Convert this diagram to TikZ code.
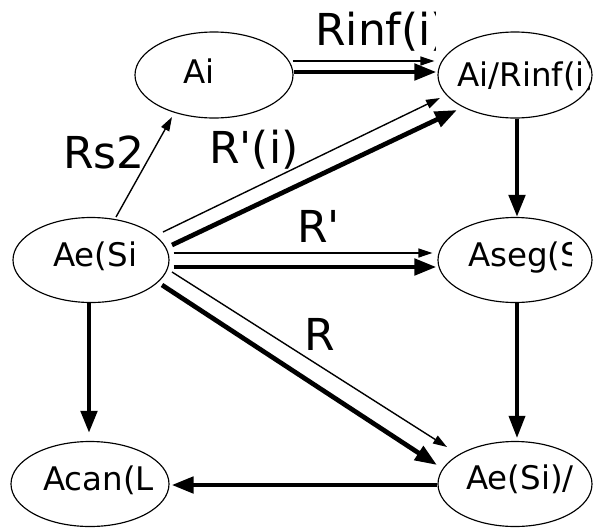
\documentclass[tikz,border=0pt]{standalone}
\usepackage{fontspec}
\setmainfont{DejaVu Sans}
\usetikzlibrary{shapes.geometric,arrows.meta,calc}
\tikzset{
  ell/.style={draw, ellipse, line width=1.15pt, inner sep=0pt, minimum height=85pt},
  ntext/.style={font=\fontsize{32.5}{36}\selectfont, inner sep=0pt, anchor=base west},
  ltext/.style={font=\fontsize{44}{48}\selectfont, inner sep=0pt, anchor=base west},
  thinarr/.style={line width=1.4pt, -{Triangle[length=14pt, width=9pt]}},
  thickarr/.style={line width=4.7pt, -{Triangle[length=22pt, width=16pt]}},
}
\begin{document}
\begin{tikzpicture}[x=1pt, y=1pt]
\useasboundingbox (0,0) rectangle (594,-528);
% ellipses
\node[ell, minimum width=158pt, minimum height=86pt] (ai) at (214,-75) {};
\node[ell, minimum width=154pt, minimum height=86pt] (air) at (515,-75) {};
\node[ell, minimum width=156pt] (ae) at (91,-260) {};
\node[ell, minimum width=154pt] (aseg) at (515,-260) {};
\node[ell, minimum width=158pt] (acan) at (90,-484) {};
\node[ell, minimum width=154pt] (aes) at (515,-484) {};
% node texts
\node[ntext] (tai) at (183,-83) {Ai};
\begin{scope}
  \clip (440,-30) rectangle (589,-120);
  \node[ntext] (tair) at (457,-86) {Ai/Rinf(i)};
\end{scope}
\node[ntext] (tae) at (53,-266) {Ae(Si};
\begin{scope}
  \clip (440,-220) rectangle (571,-300);
  \node[ntext] (taseg) at (468,-266) {Aseg(S};
\end{scope}
\node[ntext] (tacan) at (43,-490) {Acan(L};
\begin{scope}
  \clip (440,-444) rectangle (575,-524);
  \node[ntext] (taes) at (466,-489) {Ae(Si)/};
\end{scope}
% labels
\begin{scope}
  \clip (300,0) rectangle (435,-60);
  \node[ltext] (lrinf) at (315,-45) {Rinf(i)};
\end{scope}
\node[ltext] (lrs) at (63,-168) {Rs2};
\node[ltext] (lrpi) at (209,-163) {R\textquotesingle(i)};
\node[ltext] (lrp) at (297,-242) {R\textquotesingle};
\node[ltext] (lr) at (304,-350) {R};
% connectors
\draw[thinarr] ([shift={(-1,14)}]ai.east) -- ([shift={(-3,14)}]air.west);
\draw[thickarr] ([shift={(0,3)}]ai.east) -- ([shift={(-1,3)}]air.west);
\draw[thinarr] ([shift={(72,28)}]ae.center) -- ([shift={(-75,-23)}]air.center);
\draw[thickarr] ([shift={(81,15)}]ae.center) -- ([shift={(-58,-35)}]air.center);
\draw[thinarr] ([shift={(4,7)}]ae.east) -- ([shift={(-5,7)}]aseg.west);
\draw[thickarr] ([shift={(4,-7)}]ae.east) -- ([shift={(-1,-7)}]aseg.west);
\draw[thinarr] ([shift={(81,-12)}]ae.center) -- ([shift={(-68,37)}]aes.center);
\draw[thickarr] ([shift={(71,-25)}]ae.center) -- ([shift={(-78,19)}]aes.center);
\draw[thinarr] ([shift={(25,43)}]ae.center) -- ([shift={(-42,-42)}]ai.center);
\draw[thickarr] ([shift={(2,0)}]air.south) -- ([shift={(2,0)}]aseg.north);
\draw[thickarr, line width=3.5pt] ([shift={(2,0)}]aseg.south) -- ([shift={(2,3)}]aes.north);
\draw[thickarr] ([shift={(-2,0)}]ae.south) -- ([shift={(-1,8)}]acan.north);
\draw[thickarr] ([shift={(0,-1)}]aes.west) -- ([shift={(2,-1)}]acan.east);
\end{tikzpicture}
\end{document}
